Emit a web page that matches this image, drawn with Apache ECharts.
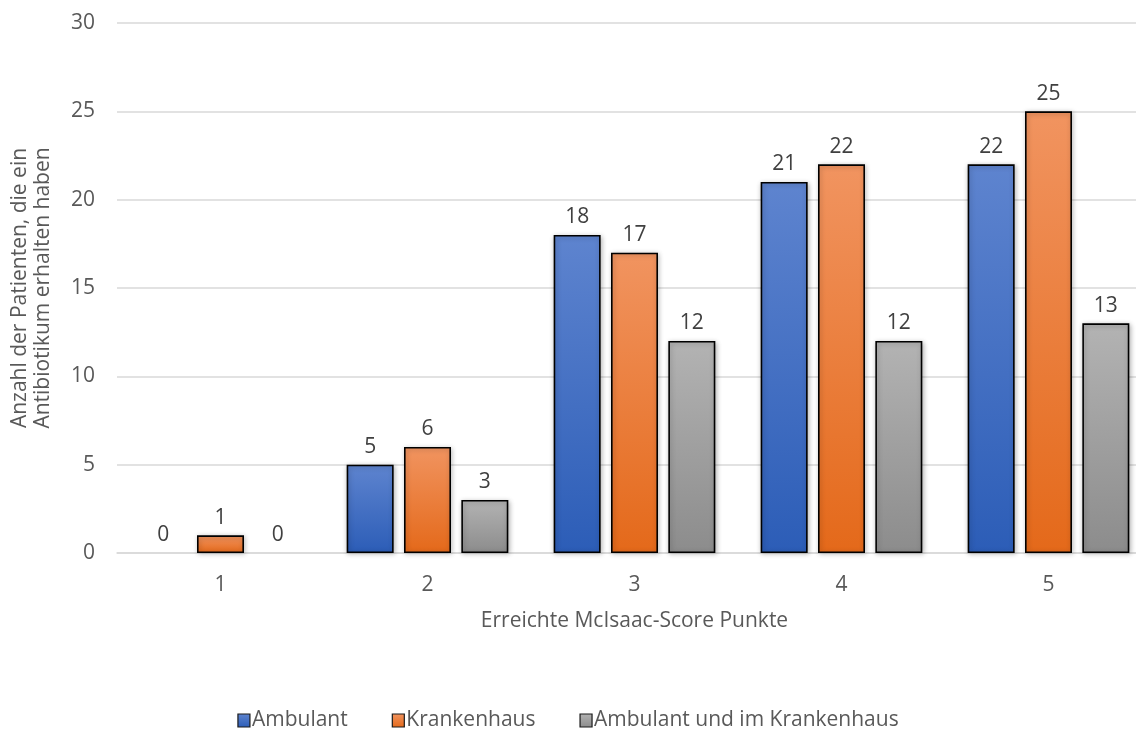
<!DOCTYPE html>
<html>
<head>
<meta charset="utf-8">
<script src="https://cdn.jsdelivr.net/npm/echarts@6/dist/echarts.min.js"></script>
<style>
  html, body { margin: 0; padding: 0; background: #ffffff; }
  #chart { width: 1136px; height: 729px; }
</style>
</head>
<body>
<div id="chart"></div>
<script>
// McIsaac score points reached
const categories = ['1', '2', '3', '4', '5'];
// Patients who received an antibiotic, per setting
const ambulant = [0, 5, 18, 21, 22];
const krankenhaus = [1, 6, 17, 22, 25];
const beides = [0, 3, 12, 12, 13];
const seriesNames = ['Ambulant', 'Krankenhaus', 'Ambulant und im Krankenhaus'];

const FONT = '"Open Sans", "Noto Sans", sans-serif';
const TEXT = '#595959';
const FS = 21;

function gradient(top, bottom) {
  return new echarts.graphic.LinearGradient(0, 0, 0, 1, [
    { offset: 0, color: top },
    { offset: 1, color: bottom }
  ]);
}

// zero-height bars get no outline, only their value label
function toItems(values) {
  return values.map(v => v === 0
    ? { value: v, itemStyle: { color: 'transparent', borderWidth: 0, shadowBlur: 0 } }
    : v);
}

function barSeries(name, data, top, bottom, legendColor) {
  return {
    name: name,
    type: 'bar',
    data: toItems(data),
    barWidth: 47,
    barGap: '22%',
    color: legendColor,
    itemStyle: {
      color: gradient(top, bottom),
      borderColor: '#000000',
      borderWidth: 1.6,
      shadowBlur: 5,
      shadowColor: 'rgba(0,0,0,0.28)',
      shadowOffsetX: 1,
      shadowOffsetY: 1
    },
    label: {
      show: true,
      position: 'top',
      distance: 7,
      color: '#404040',
      fontFamily: FONT,
      fontSize: FS
    }
  };
}

const chart = echarts.init(document.getElementById('chart'), null, { renderer: 'canvas' });
chart.setOption({
  animation: false,
  backgroundColor: '#ffffff',
  grid: { left: 117, top: 23, width: 1035, height: 530, containLabel: false, outerBoundsMode: 'none' },
  legend: {
    top: 705,
    left: 'center',
    itemWidth: 12,
    itemHeight: 13,
    itemGap: 44,
    icon: 'rect',
    textStyle: { color: TEXT, fontFamily: FONT, fontSize: FS, padding: [0, 0, 0, -3] },
    itemStyle: { borderColor: '#1a1a1a', borderWidth: 1.2 },
    data: seriesNames
  },
  xAxis: {
    type: 'category',
    data: categories,
    name: 'Erreichte McIsaac-Score Punkte',
    nameLocation: 'middle',
    nameGap: 58,
    nameTextStyle: { color: TEXT, fontFamily: FONT, fontSize: FS },
    axisLine: { show: true, lineStyle: { color: '#d9d9d9', width: 1.5 } },
    axisTick: { show: false },
    axisLabel: { color: TEXT, fontFamily: FONT, fontSize: FS, margin: 22 }
  },
  yAxis: {
    type: 'value',
    min: 0,
    max: 30,
    interval: 5,
    name: 'Anzahl der Patienten, die ein\nAntibiotikum erhalten haben',
    nameLocation: 'middle',
    nameGap: 62,
    nameRotate: 90,
    nameTextStyle: { color: TEXT, fontFamily: FONT, fontSize: FS, lineHeight: 23 },
    axisLine: { show: false },
    axisTick: { show: false },
    axisLabel: { color: TEXT, fontFamily: FONT, fontSize: FS, margin: 22 },
    splitLine: { lineStyle: { color: '#d9d9d9', width: 1.5 } }
  },
  series: [
    barSeries(seriesNames[0], ambulant, '#5e84cf', '#2c5db7', '#4472c4'),
    barSeries(seriesNames[1], krankenhaus, '#f19460', '#e4691a', '#ed7d31'),
    barSeries(seriesNames[2], beides, '#b3b3b3', '#8c8c8c', '#a5a5a5')
  ]
});
</script>
</body>
</html>
